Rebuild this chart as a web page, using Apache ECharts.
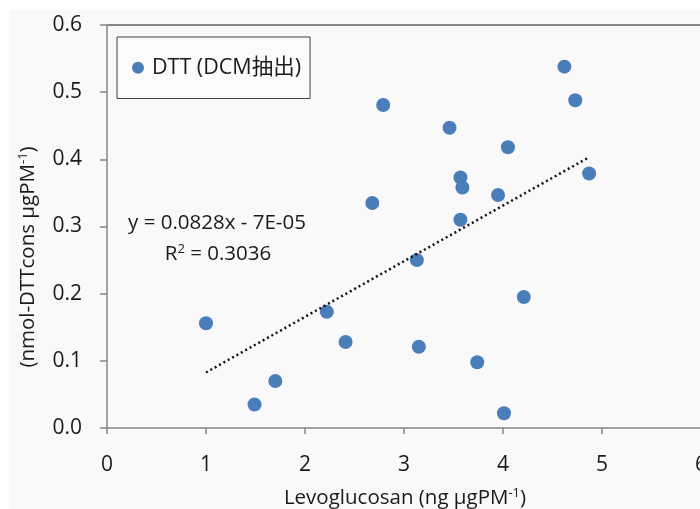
<!DOCTYPE html>
<html>
<head>
<meta charset="utf-8">
<script src="https://cdn.jsdelivr.net/npm/echarts@6/dist/echarts.min.js"></script>
<style>
html,body{margin:0;padding:0;background:#ffffff;}
#chart{width:700px;height:509px;}
</style>
</head>
<body>
<div id="chart"></div>
<script>
// Data
var levoglucosan = [1.00, 1.49, 1.70, 2.22, 2.41, 2.68, 2.79, 3.13, 3.15, 3.46, 3.57, 3.59, 3.57, 3.74, 3.95, 4.01, 4.05, 4.21, 4.62, 4.73, 4.87];
var dttValues    = [0.156, 0.035, 0.070, 0.173, 0.128, 0.335, 0.481, 0.250, 0.121, 0.447, 0.373, 0.358, 0.310, 0.098, 0.347, 0.022, 0.418, 0.195, 0.538, 0.488, 0.379];
var trendX = [1.00, 4.87];
var trendY = [0.0827, 0.4032];
var xTicks = [0, 1, 2, 3, 4, 5, 6];
var yTicks = [0.0, 0.1, 0.2, 0.3, 0.4, 0.5, 0.6];
var seriesName = 'DTT (DCM抽出)';
var equationText = 'y = 0.0828x - 7E-05';
var r2Value = '0.3036';

var FONT = 'Open Sans, "Noto Sans CJK JP", sans-serif';
var TXT = '#1a1a1a';
var AXIS = '#878787';

var points = levoglucosan.map(function (x, i) { return [x, dttValues[i]]; });
var trend = trendX.map(function (x, i) { return [x, trendY[i]]; });

var chart = echarts.init(document.getElementById('chart'), null, {renderer: 'canvas'});
chart.setOption({
  backgroundColor: '#f9f9f9',
  animation: false,
  grid: {left: 107, top: 25, width: 594, height: 403, containLabel: false, outerBoundsMode: 'none'},
  xAxis: {
    type: 'value', min: 0, max: 6, interval: 1,
    axisLine: {show: true, onZero: false, lineStyle: {color: AXIS, width: 1.5}},
    axisTick: {show: true, length: 6, inside: false, lineStyle: {color: AXIS, width: 1.5}},
    splitLine: {show: false},
    axisLabel: {
      margin: 27, color: TXT, fontSize: 21, fontFamily: FONT,
      showMaxLabel: true, hideOverlap: false,
      formatter: function (v) { return xTicks.indexOf(v) >= 0 ? String(v) : ''; }
    }
  },
  yAxis: {
    type: 'value', min: 0, max: 0.6, interval: 0.1,
    axisLine: {show: true, lineStyle: {color: AXIS, width: 1.5}},
    axisTick: {show: true, length: 7, inside: false, lineStyle: {color: AXIS, width: 1.5}},
    splitLine: {show: false},
    axisLabel: {
      margin: 25, color: TXT, fontSize: 21, fontFamily: FONT,
      formatter: function (v) {
        var best = yTicks.reduce(function (a, b) { return Math.abs(b - v) < Math.abs(a - v) ? b : a; });
        return best.toFixed(1);
      }
    }
  },
  legend: {
    show: true,
    left: 117, top: 37,
    orient: 'horizontal',
    data: [{name: seriesName, icon: 'circle'}],
    itemWidth: 12, itemHeight: 12, itemGap: 5,
    padding: [20, 9, 20, 15],
    borderColor: '#404040', borderWidth: 1,
    backgroundColor: '#fbfbfb',
    textStyle: {color: TXT, fontSize: 21.5, fontFamily: FONT, padding: [0, 0, 0, 3]}
  },
  graphic: [
    {type: 'rect', shape: {x: 0, y: 0, width: 700, height: 10}, style: {fill: '#ffffff'}, silent: true, z: -1},
    {type: 'rect', shape: {x: 0, y: 0, width: 10, height: 509}, style: {fill: '#ffffff'}, silent: true, z: -1},
    {type: 'line', shape: {x1: 107, y1: 25, x2: 700, y2: 25}, style: {stroke: AXIS, lineWidth: 2}, silent: true, z: 5},
    {
      type: 'text', x: 217, y: 223,
      style: {text: equationText, font: '20.5px ' + FONT, fill: TXT, textAlign: 'center', textVerticalAlign: 'middle'}
    },
    {
      type: 'text', x: 218, y: 254,
      style: {
        text: '{a|R}{s|2}{a| = ' + r2Value + '}',
        textAlign: 'center', textVerticalAlign: 'middle',
        rich: {
          a: {fontSize: 20.5, fontFamily: FONT, fill: TXT, color: TXT},
          s: {fontSize: 13, fontFamily: FONT, fill: TXT, color: TXT, padding: [0, 0, 9, 0]}
        }
      }
    },
    {
      type: 'text', x: 28, y: 257, rotation: Math.PI / 2,
      style: {
        text: '{a|(nmol-DTTcons μgPM}{s|-1}{a|)}',
        textAlign: 'center', textVerticalAlign: 'middle',
        rich: {
          a: {fontSize: 20.5, fontFamily: FONT, fill: TXT, color: TXT},
          s: {fontSize: 13, fontFamily: FONT, fill: TXT, color: TXT, padding: [0, 0, 10, 0]}
        }
      }
    },
    {
      type: 'text', x: 405, y: 498,
      style: {
        text: '{a|Levoglucosan (ng μgPM}{s|-1}{a|)}',
        textAlign: 'center', textVerticalAlign: 'middle',
        rich: {
          a: {fontSize: 20.5, fontFamily: FONT, fill: TXT, color: TXT},
          s: {fontSize: 13, fontFamily: FONT, fill: TXT, color: TXT, padding: [0, 0, 10, 0]}
        }
      }
    }
  ],
  series: [
    {
      name: seriesName,
      type: 'scatter',
      symbol: 'circle',
      symbolSize: 14,
      itemStyle: {color: '#4a7ebb', opacity: 1},
      data: points,
      z: 3
    },
    {
      name: 'trend',
      type: 'line',
      data: trend,
      showSymbol: false,
      symbol: 'none',
      lineStyle: {color: '#111111', width: 2.5, type: [2, 3]},
      z: 4,
      silent: true
    }
  ]
});
</script>
</body>
</html>
